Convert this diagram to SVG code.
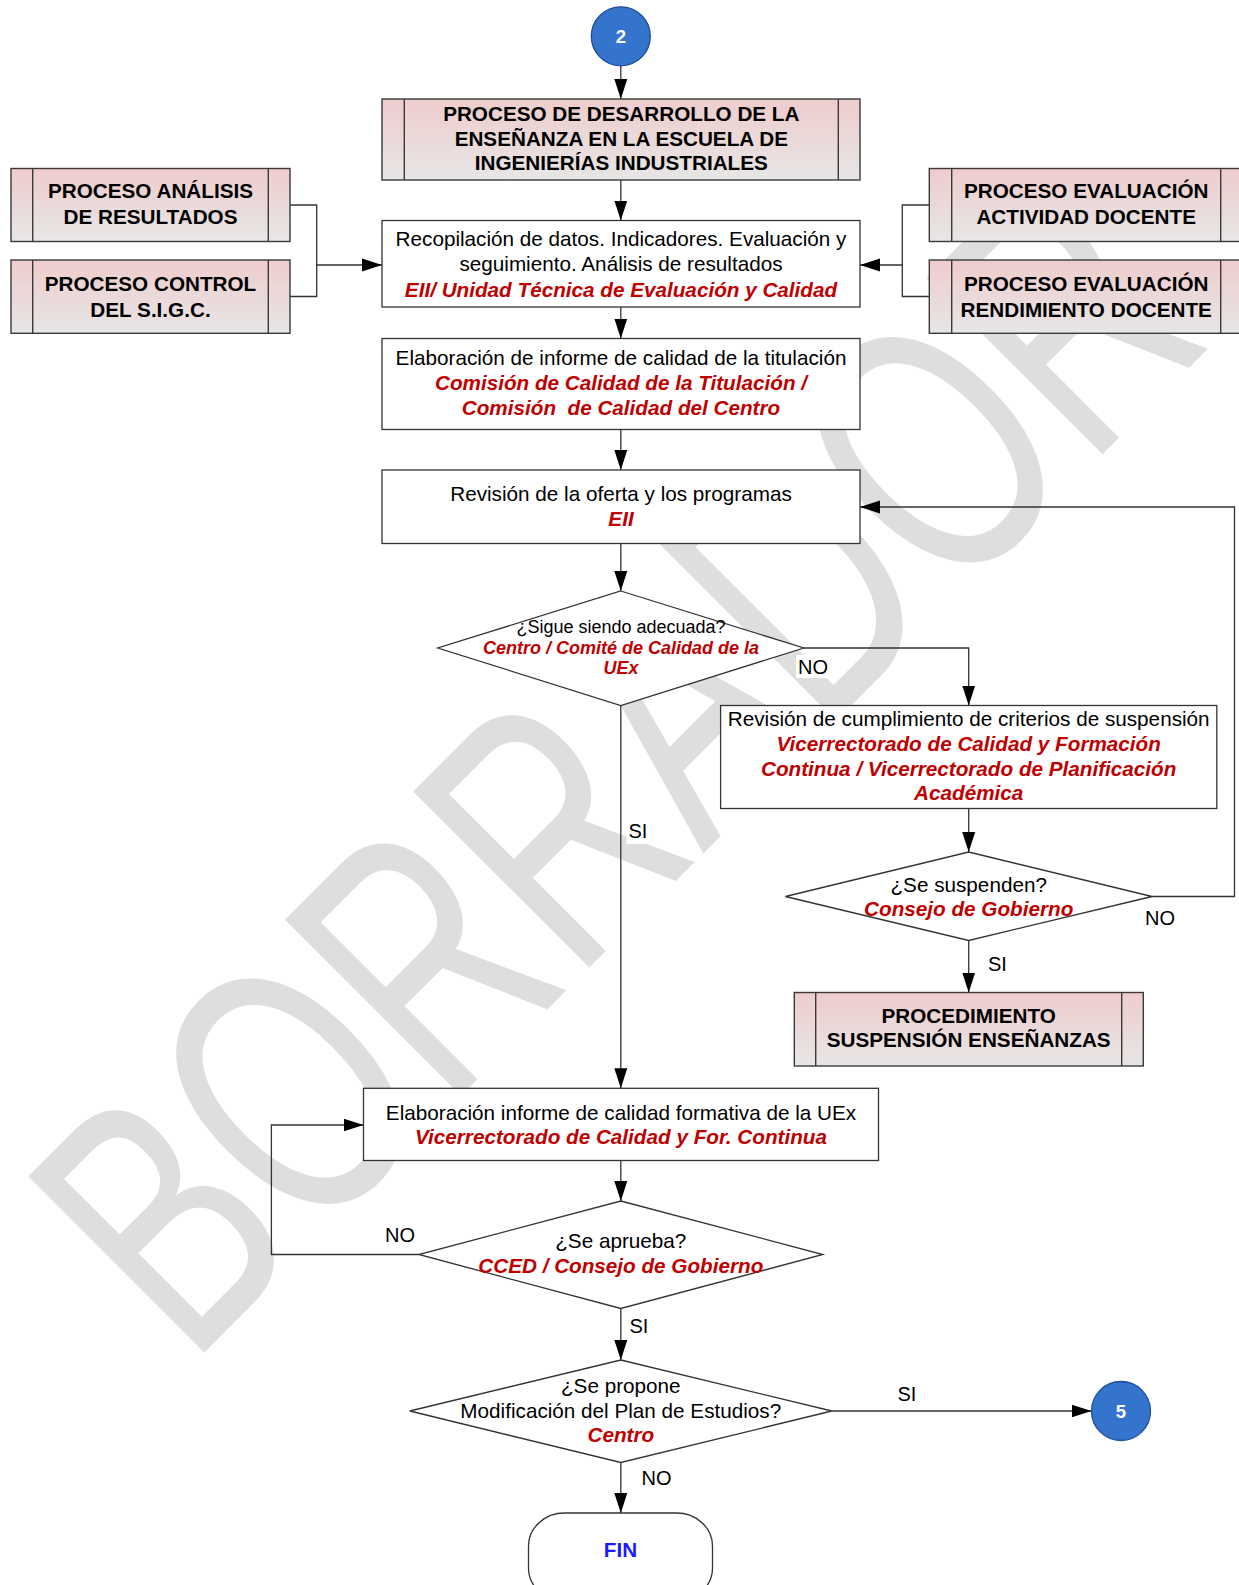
<svg xmlns="http://www.w3.org/2000/svg" width="1239" height="1585" viewBox="0 0 1239 1585">
<defs>
<linearGradient id="pg" x1="0" y1="0" x2="0" y2="1">
<stop offset="0" stop-color="#efcccc"/>
<stop offset="1" stop-color="#e7e6e6"/>
</linearGradient>
<marker id="ah" markerUnits="userSpaceOnUse" markerWidth="21" markerHeight="14" refX="20" refY="7" orient="auto">
<path d="M0,0.5 L20,7 L0,13.5 z" fill="#000"/>
</marker>
</defs>
<style>
.t{font-family:"Liberation Sans",Arial,sans-serif;font-size:20.7px;text-anchor:middle;fill:#000}
.s{font-size:18px}
.b{font-weight:bold}
.r{font-weight:bold;font-style:italic;fill:#c00000}
.box{fill:#fff;stroke:#333;stroke-width:1.3}
.proc{fill:url(#pg);stroke:#3a3a3a;stroke-width:1.4}
.bar{stroke:#3a3a3a;stroke-width:1.4}
.c{fill:none;stroke:#333;stroke-width:1.3}
.a{marker-end:url(#ah)}
.lbl{font-family:"Liberation Sans",Arial,sans-serif;font-size:20px;fill:#000}
.lb{fill:#fff}
.circ{fill:#3474cc;stroke:#1d4c9a;stroke-width:1.3}
.ct{font-family:"Liberation Sans",Arial,sans-serif;font-size:18.5px;font-weight:bold;fill:#fff;text-anchor:middle}
.wm{font-family:"Liberation Sans",Arial,sans-serif;font-size:362px;fill:#dedede}
</style>

<text class="wm" x="0" y="0" transform="translate(189.8,1367) rotate(-45) scale(0.694,1)">BORRADOR</text>

<g id="connectors">
<path class="c a" d="M620.8,66 V99"/>
<path class="c a" d="M620.8,180 V220.5"/>
<path class="c a" d="M620.8,307 V338.5"/>
<path class="c a" d="M620.8,429.5 V470"/>
<path class="c a" d="M620.8,543.5 V591"/>
<path class="c a" d="M620.8,705.5 V1088.3"/>
<path class="c a" d="M803.8,648 H968.7 V705.5"/>
<path class="c a" d="M968.7,808.5 V852"/>
<path class="c a" d="M968.7,940.5 V992.5"/>
<path class="c a" d="M1152,896.5 H1234.5 V507 H860"/>
<path class="c a" d="M620.8,1160.5 V1201"/>
<path class="c a" d="M418.8,1254.5 H271.4 V1125 H363.5"/>
<path class="c a" d="M620.8,1308.5 V1360"/>
<path class="c a" d="M831.8,1411 H1091.5"/>
<path class="c a" d="M620.8,1462.5 V1513"/>
<path class="c" d="M290,205 H316.7 V296.5 H290"/>
<path class="c a" d="M316.7,265 H382"/>
<path class="c" d="M929.3,205 H902.3 V296.5 H929.3"/>
<path class="c a" d="M902.3,265 H860"/>
<rect class="lb" x="796" y="655" width="34" height="23"/>
<text class="lbl" x="798" y="673.5">NO</text>
<rect class="lb" x="626.5" y="819" width="23" height="25"/>
<text class="lbl" x="628.5" y="838">SI</text>
<rect class="lb" x="1143" y="907" width="34" height="23"/>
<text class="lbl" x="1145" y="925">NO</text>
<rect class="lb" x="986" y="953" width="23" height="23"/>
<text class="lbl" x="988" y="971">SI</text>
<rect class="lb" x="383" y="1224" width="34" height="23"/>
<text class="lbl" x="385" y="1242">NO</text>
<rect class="lb" x="627.5" y="1315" width="23" height="23"/>
<text class="lbl" x="629.5" y="1333">SI</text>
<rect class="lb" x="895.5" y="1383" width="23" height="23"/>
<text class="lbl" x="897.5" y="1401">SI</text>
<rect class="lb" x="639.5" y="1467" width="34" height="23"/>
<text class="lbl" x="641.5" y="1485">NO</text>
</g>

<g id="start2">
<circle class="circ" cx="620.8" cy="36.3" r="29.5"/>
<text class="ct" x="620.8" y="42.8">2</text>
</g>

<g id="procDesarrollo">
<rect class="proc" x="382" y="99" width="478" height="81"/>
<line class="bar" x1="404.3" y1="99" x2="404.3" y2="180"/>
<line class="bar" x1="838.3" y1="99" x2="838.3" y2="180"/>
<text class="t b" x="621.3" y="121">PROCESO DE DESARROLLO DE LA</text>
<text class="t b" x="621.3" y="145.5">ENSEÑANZA EN LA ESCUELA DE</text>
<text class="t b" x="621.3" y="170">INGENIERÍAS INDUSTRIALES</text>
</g>

<g id="procAnalisis">
<rect class="proc" x="11" y="168.5" width="279" height="73"/>
<line class="bar" x1="32.7" y1="168.5" x2="32.7" y2="241.5"/>
<line class="bar" x1="268.3" y1="168.5" x2="268.3" y2="241.5"/>
<text class="t b" x="150.5" y="197.5">PROCESO ANÁLISIS</text>
<text class="t b" x="150.5" y="223.5">DE RESULTADOS</text>
</g>

<g id="procControl">
<rect class="proc" x="11" y="260" width="279" height="73.3"/>
<line class="bar" x1="32.7" y1="260" x2="32.7" y2="333.3"/>
<line class="bar" x1="268.3" y1="260" x2="268.3" y2="333.3"/>
<text class="t b" x="150.5" y="290.7">PROCESO CONTROL</text>
<text class="t b" x="150.5" y="316.7">DEL S.I.G.C.</text>
</g>

<g id="procActividad">
<rect class="proc" x="929.3" y="168.5" width="313" height="73"/>
<line class="bar" x1="951.7" y1="168.5" x2="951.7" y2="241.5"/>
<line class="bar" x1="1220.7" y1="168.5" x2="1220.7" y2="241.5"/>
<text class="t b" x="1086.2" y="197.5">PROCESO EVALUACIÓN</text>
<text class="t b" x="1086.2" y="223.5">ACTIVIDAD DOCENTE</text>
</g>

<g id="procRendimiento">
<rect class="proc" x="929.3" y="260" width="313" height="73.3"/>
<line class="bar" x1="951.7" y1="260" x2="951.7" y2="333.3"/>
<line class="bar" x1="1220.7" y1="260" x2="1220.7" y2="333.3"/>
<text class="t b" x="1086.2" y="290.7">PROCESO EVALUACIÓN</text>
<text class="t b" x="1086.2" y="316.7">RENDIMIENTO DOCENTE</text>
</g>

<g id="recopilacion">
<rect class="box" x="382" y="220.5" width="478" height="86.5"/>
<text class="t" x="621" y="246">Recopilación de datos. Indicadores. Evaluación y</text>
<text class="t" x="621" y="271.3">seguimiento. Análisis de resultados</text>
<text class="t r" x="621" y="296.5">EII/ Unidad Técnica de Evaluación y Calidad</text>
</g>

<g id="informeTitulacion">
<rect class="box" x="382" y="338.5" width="478" height="91"/>
<text class="t" x="621" y="365">Elaboración de informe de calidad de la titulación</text>
<text class="t r" x="621" y="390">Comisión de Calidad de la Titulación /</text>
<text class="t r" x="621" y="415" xml:space="preserve">Comisión  de Calidad del Centro</text>
</g>

<g id="revisionOferta">
<rect class="box" x="382" y="470" width="478" height="73.5"/>
<text class="t" x="621" y="500.5">Revisión de la oferta y los programas</text>
<text class="t r" x="621" y="525.8">EII</text>
</g>

<g id="sigueAdecuada">
<polygon class="box" points="620.8,591 803.8,648 620.8,705.5 437.8,648"/>
<text class="t s" x="621" y="632.7">¿Sigue siendo adecuada?</text>
<text class="t s r" x="621" y="654">Centro / Comité de Calidad de la</text>
<text class="t s r" x="621" y="674.3">UEx</text>
</g>

<g id="revisionCriterios">
<rect class="box" x="720.6" y="705.5" width="496.2" height="103"/>
<text class="t" x="968.7" y="726">Revisión de cumplimiento de criterios de suspensión</text>
<text class="t r" x="968.7" y="750.8">Vicerrectorado de Calidad y Formación</text>
<text class="t r" x="968.7" y="775.5">Continua / Vicerrectorado de Planificación</text>
<text class="t r" x="968.7" y="800.2">Académica</text>
</g>

<g id="seSuspenden">
<polygon class="box" points="968.7,852 1152,896.5 968.7,940.5 785.4,896.5"/>
<text class="t" x="968.7" y="892">¿Se suspenden?</text>
<text class="t r" x="968.7" y="915.5">Consejo de Gobierno</text>
</g>

<g id="procSuspension">
<rect class="proc" x="794.3" y="992.5" width="349" height="73.5"/>
<line class="bar" x1="815.7" y1="992.5" x2="815.7" y2="1066"/>
<line class="bar" x1="1121.7" y1="992.5" x2="1121.7" y2="1066"/>
<text class="t b" x="968.7" y="1023.3">PROCEDIMIENTO</text>
<text class="t b" x="968.7" y="1047">SUSPENSIÓN ENSEÑANZAS</text>
</g>

<g id="informeFormativa">
<rect class="box" x="363.5" y="1088.3" width="515" height="72.2"/>
<text class="t" x="621" y="1119.5">Elaboración informe de calidad formativa de la UEx</text>
<text class="t r" x="621" y="1144">Vicerrectorado de Calidad y For. Continua</text>
</g>

<g id="seAprueba">
<polygon class="box" points="620.8,1201 822.8,1254.5 620.8,1308.5 418.8,1254.5"/>
<text class="t" x="620.8" y="1247.5">¿Se aprueba?</text>
<text class="t r" x="620.8" y="1273">CCED / Consejo de Gobierno</text>
</g>

<g id="sePropone">
<polygon class="box" points="620.8,1360 831.8,1411 620.8,1462.5 409.8,1411"/>
<text class="t" x="620.8" y="1392.5">¿Se propone</text>
<text class="t" x="620.8" y="1417.5">Modificación del Plan de Estudios?</text>
<text class="t r" x="620.8" y="1442">Centro</text>
</g>

<g id="conector5">
<circle class="circ" cx="1121" cy="1411" r="29.5"/>
<text class="ct" x="1121" y="1417.5">5</text>
</g>

<g id="fin">
<rect class="box" x="528.5" y="1513" width="184" height="88" rx="36" ry="33"/>
<text class="t b" x="620.5" y="1557" fill="#1a1aff" style="fill:#1a1aff">FIN</text>
</g>
</svg>
